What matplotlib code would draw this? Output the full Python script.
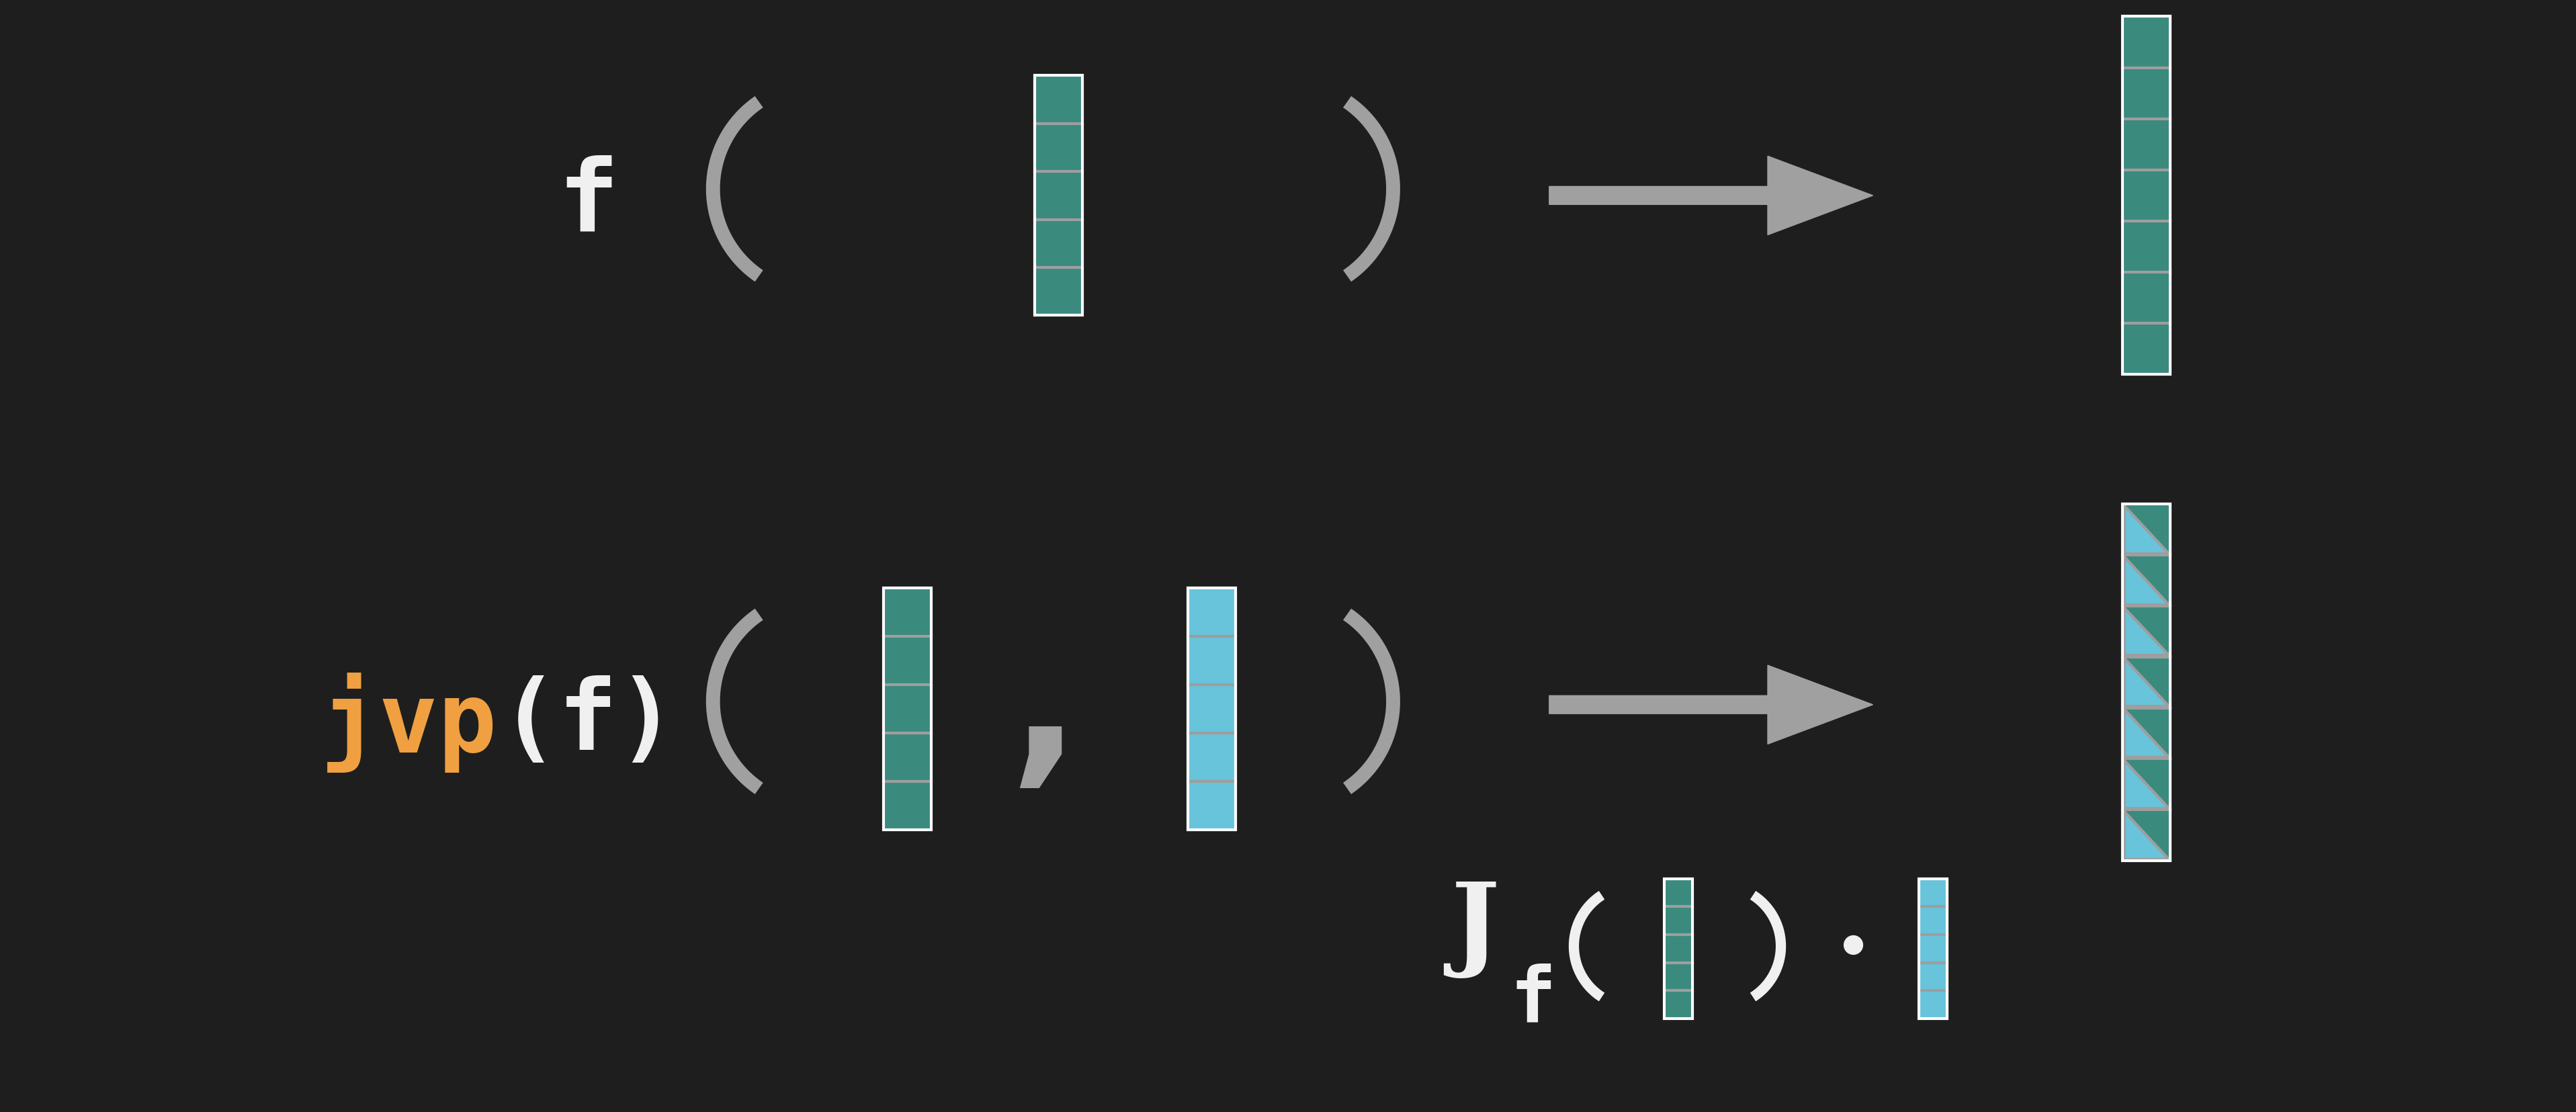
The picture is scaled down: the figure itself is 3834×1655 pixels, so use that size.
import matplotlib
matplotlib.use("Agg")
import numpy as np
import matplotlib.pyplot as plt
from matplotlib.patches import Rectangle, Polygon, FancyArrow

BG = "#1e1e1e"; TEAL = "#3a8a7e"; BLUE = "#68c4da"; GRID = "#9e9e9e"; WHITE = "#f0f0f0"
ORANGE = "#f0a040"; GRAY = "#a0a0a0"

# layout data (display units of a 1568x677 canvas)
top_in_cells = 5
top_out_cells = 7
jvp_in_cells = 5
jvp_out_cells = 7
small_cells = 5

fig = plt.figure(figsize=(38.34, 16.55), dpi=100, facecolor=BG)
ax = fig.add_axes([0, 0, 1, 1])
ax.set_xlim(0, 1568); ax.set_ylim(677, 0); ax.axis("off"); ax.set_facecolor(BG)

def column(x0, y0, w, h, n, color, tri=False):
    ch = h / n
    for i in range(n):
        y = y0 + i * ch
        ax.add_patch(Rectangle((x0, y), w, ch, facecolor=color, edgecolor="none", zorder=2))
        if tri:
            ax.add_patch(Polygon([(x0 + 1, y + 1), (x0 + 1, y + ch - 1), (x0 + w - 1, y + ch - 1)],
                                 closed=True, facecolor=BLUE, edgecolor=GRID, lw=3,
                                 joinstyle="miter", zorder=3))
        if i > 0:
            ax.plot([x0, x0 + w], [y, y], color=GRID, lw=3, zorder=4)
    ax.add_patch(Rectangle((x0, y0), w, h, facecolor="none", edgecolor="white", lw=3, zorder=5))

def paren(x_end, x_mid, y0, y1, color, lw, right=False):
    half = (y1 - y0) / 2
    sag = abs(x_end - x_mid)
    R = (half ** 2 + sag ** 2) / (2 * sag)
    yc = (y0 + y1) / 2
    ang = np.arcsin(half / R)
    t = np.linspace(-ang, ang, 60)
    if right:
        xs = x_mid - R + R * np.cos(t)
    else:
        xs = x_mid + R - R * np.cos(t)
    ys = yc + R * np.sin(t)
    ax.plot(xs, ys, color=color, lw=lw, solid_capstyle="butt", zorder=2)

def arrow(y):
    ax.add_patch(FancyArrow(943, y, 197, 0, width=11, head_width=48, head_length=64,
                            length_includes_head=True, color=GRAY, zorder=2))

mono = "DejaVu Sans Mono"
# row 1
ax.text(358, 124, "f", fontsize=108, family=mono, fontweight="bold", color=WHITE, ha="center", va="center")
paren(462, 434, 62, 168, GRAY, 15)
paren(820, 848, 62, 168, GRAY, 15, right=True)
column(630, 46, 29, 146, top_in_cells, TEAL)
arrow(119)
column(1292, 10, 29, 218, top_out_cells, TEAL)

# row 2
ax.text(195, 440, "jvp", fontsize=105, family=mono, fontweight="bold", color=ORANGE, ha="left", va="center")
ax.text(304, 440, "(f)", fontsize=105, family=mono, fontweight="bold", color=WHITE, ha="left", va="center")
paren(462, 434, 374, 480, GRAY, 15)
paren(820, 848, 374, 480, GRAY, 15, right=True)
column(538, 358, 29, 147, jvp_in_cells, TEAL)
ax.text(636, 432, ",", fontsize=200, color=GRAY, ha="center", va="center", fontweight="bold")
column(723, 358, 29, 147, jvp_in_cells, BLUE)
arrow(429)
column(1292, 307, 29, 217, jvp_out_cells, TEAL, tri=True)

# row 3
ax.text(898, 565, "J", fontsize=110, family="DejaVu Serif", fontweight="bold", color=WHITE,
        ha="center", va="center")
ax.text(933, 609, "f", fontsize=82, family=mono, fontweight="bold", color=WHITE, ha="center", va="center")
paren(975, 958, 545, 607, WHITE, 11)
paren(1067, 1084, 545, 607, WHITE, 11, right=True)
column(1013, 535, 17, 85, small_cells, TEAL)
ax.plot([1128], [575], "o", color=WHITE, ms=20)
column(1168, 535, 17, 85, small_cells, BLUE)

fig.savefig("out.png", dpi=100, facecolor=BG)
